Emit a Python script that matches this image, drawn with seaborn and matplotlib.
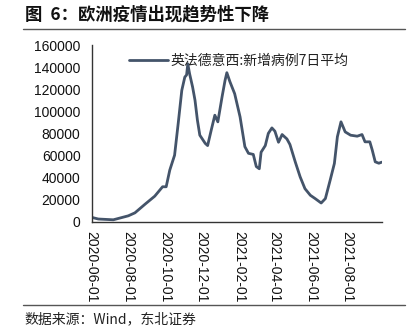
import matplotlib
matplotlib.use("Agg")
import matplotlib.pyplot as plt
import seaborn as sns
import pandas as pd

dates = ["2020-06-01", "2020-06-12", "2020-07-07", "2020-08-01", "2020-08-12", "2020-08-29",
         "2020-09-14", "2020-09-27", "2020-10-03", "2020-10-09", "2020-10-17", "2020-10-23",
         "2020-10-29", "2020-11-03", "2020-11-06", "2020-11-08", "2020-11-11", "2020-11-16", "2020-11-20",
         "2020-11-24", "2020-11-28", "2020-12-07", "2020-12-11", "2020-12-17", "2020-12-23", "2020-12-28",
         "2021-01-04", "2021-01-09", "2021-01-12", "2021-01-17", "2021-01-25", "2021-02-03", "2021-02-11",
         "2021-02-17", "2021-02-25", "2021-03-02", "2021-03-07", "2021-03-10", "2021-03-17",
         "2021-03-22", "2021-03-28", "2021-04-02", "2021-04-08", "2021-04-14", "2021-04-22",
         "2021-04-27", "2021-05-06", "2021-05-14", "2021-05-22", "2021-05-31", "2021-06-08",
         "2021-06-18", "2021-06-25", "2021-07-03", "2021-07-10", "2021-07-15", "2021-07-21",
         "2021-07-28", "2021-08-06", "2021-08-17", "2021-08-25", "2021-08-30", "2021-09-07",
         "2021-09-11", "2021-09-16", "2021-09-22", "2021-09-27"]
values = [4000, 2500, 1800, 5400, 8100, 16000,
          23200, 31700, 31700, 46800, 60300, 89000,
          119000, 131000, 133000, 143000, 134000, 122000, 110000,
          92000, 78400, 71000, 69000, 83000, 96500, 90500,
          113000, 128000, 135000, 127000, 116000, 95000, 68000,
          62000, 61000, 50000, 48000, 63000, 69000,
          80000, 85000, 82000, 72000, 79000, 75000,
          70000, 54000, 40700, 30000, 24000, 21000,
          17000, 21000, 37700, 52800, 77000, 90500,
          81400, 78400, 77500, 79000, 72400, 72400,
          65000, 54300, 53000, 54000]
series_name = "英法德意西:新增病例7日平均"
title = "图  6：欧洲疫情出现趋势性下降"
source = "数据来源：Wind，东北证券"
yticks = [0, 20000, 40000, 60000, 80000, 100000, 120000, 140000, 160000]
xticks = ["2020-06-01", "2020-08-01", "2020-10-01", "2020-12-01",
          "2021-02-01", "2021-04-01", "2021-06-01", "2021-08-01"]

df = pd.DataFrame({"date": pd.to_datetime(dates), "value": values, "series": series_name})

sns.set_theme(style="white")
plt.rcParams['font.family'] = ['Noto Sans CJK SC', 'DejaVu Sans']

fig = plt.figure(figsize=(4.13, 3.34), dpi=100)
ax = fig.add_axes([0.222, 0.336, 0.704, 0.529])
sns.lineplot(data=df, x="date", y="value", hue="series", palette=["#44546A"],
             linewidth=2.0, ax=ax)

ax.set_xlim(pd.Timestamp("2020-06-01"), pd.Timestamp("2021-09-28"))
ax.set_ylim(0, 160000)
ax.set_yticks(yticks)
ax.set_yticklabels([str(v) for v in yticks], fontsize=10, family=["Liberation Sans", "DejaVu Sans"])
ax.set_xticks(pd.to_datetime(xticks))
ax.set_xticklabels(xticks, rotation=-90, fontsize=10, family=["Liberation Sans", "DejaVu Sans"])
ax.set_xlabel("")
ax.set_ylabel("")
for s in ["top", "right"]:
    ax.spines[s].set_visible(False)
for s in ["left", "bottom"]:
    ax.spines[s].set_color("#333333")
    ax.spines[s].set_linewidth(1.0)
ax.tick_params(axis="y", direction="out", length=5, width=1, pad=3, colors="#111111")
ax.tick_params(axis="x", direction="out", length=4, width=1, pad=3, colors="#111111")
ax.tick_params(axis="both", which="both", color="#333333")

leg = ax.legend(loc="upper left", bbox_to_anchor=(0.1, 1.0), frameon=False, fontsize=10,
                handlelength=2.8, handletextpad=0.2, borderaxespad=0.2)
for t in leg.get_texts():
    t.set_color("#222222")

fig.text(0.06, 0.958, title, fontsize=12.5, fontweight="bold", va="center", ha="left", color="#111111")
fig.add_artist(plt.Line2D([0.056, 0.98], [0.913, 0.913], color="#555555", linewidth=1.0))
fig.add_artist(plt.Line2D([0.056, 0.98], [0.087, 0.087], color="#555555", linewidth=1.0))
fig.text(0.058, 0.045, source, fontsize=10, va="center", ha="left", color="#222222")

fig.savefig("out.png", dpi=100)
